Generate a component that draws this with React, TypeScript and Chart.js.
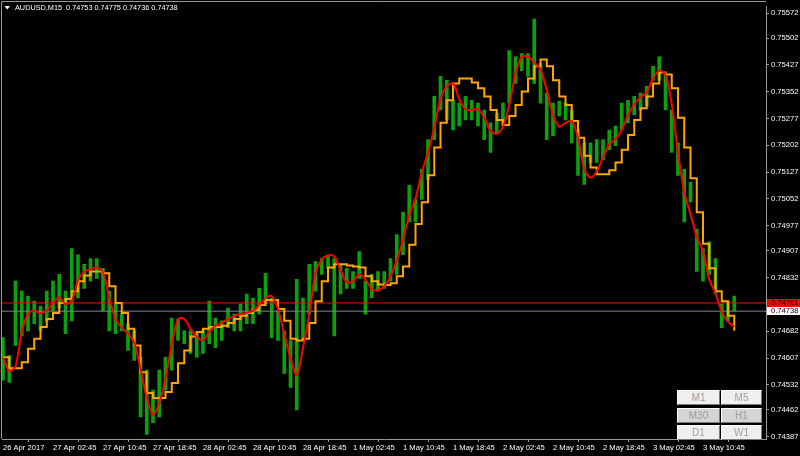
import React, { useEffect, useRef } from 'react';
import { Chart, registerables } from 'chart.js';
Chart.register(...registerables);

const timeLabels = ['26 Apr 2017', '27 Apr 02:45', '27 Apr 10:45', '27 Apr 18:45', '28 Apr 02:45', '28 Apr 10:45', '28 Apr 18:45', '1 May 02:45', '1 May 10:45', '1 May 18:45', '2 May 02:45', '2 May 10:45', '2 May 18:45', '3 May 02:45', '3 May 10:45'];
const tickHours = [0, 8, 16, 24, 32, 40, 48, 56, 64, 72, 80, 88, 96, 104, 112];
const priceTicks = [0.75572, 0.75502, 0.75427, 0.75352, 0.75277, 0.75202, 0.75127, 0.75052, 0.74977, 0.74907, 0.74832, 0.74682, 0.74607, 0.74532, 0.74462, 0.74387];

const red = [0.74609, 0.74570, 0.74584, 0.74680, 0.74730, 0.74739, 0.74733, 0.74739, 0.74761, 0.74777,
  0.74758, 0.74766, 0.74824, 0.74849, 0.74855, 0.74860, 0.74847, 0.74775, 0.74716, 0.74692,
  0.74675, 0.74650, 0.74578, 0.74495, 0.74448, 0.74481, 0.74550, 0.74644, 0.74716, 0.74716,
  0.74689, 0.74667, 0.74656, 0.74680, 0.74697, 0.74705, 0.74716, 0.74725, 0.74730, 0.74733,
  0.74739, 0.74755, 0.74775, 0.74780, 0.74744, 0.74675, 0.74606, 0.74559, 0.74636, 0.74730,
  0.74844, 0.74883, 0.74894, 0.74891, 0.74852, 0.74819, 0.74822, 0.74841, 0.74827, 0.74800,
  0.74797, 0.74808, 0.74836, 0.74880, 0.74938, 0.75007, 0.75054, 0.75126, 0.75182, 0.75251,
  0.75331, 0.75367, 0.75375, 0.75331, 0.75303, 0.75301, 0.75303, 0.75279, 0.75243, 0.75234,
  0.75254, 0.75315, 0.75403, 0.75450, 0.75450, 0.75434, 0.75414, 0.75356, 0.75287, 0.75254,
  0.75265, 0.75270, 0.75223, 0.75135, 0.75112, 0.75129, 0.75168, 0.75204, 0.75220, 0.75245,
  0.75287, 0.75317, 0.75337, 0.75351, 0.75389, 0.75411, 0.75400, 0.75317, 0.75182, 0.75071,
  0.75010, 0.74946, 0.74905, 0.74827, 0.74788, 0.74736, 0.74708, 0.74694];

const orange = [0.74609, 0.74578, 0.74578, 0.74595, 0.74633, 0.74661, 0.74694, 0.74716, 0.74733, 0.74761,
  0.74772, 0.74794, 0.74822, 0.74838, 0.74849, 0.74849, 0.74844, 0.74808, 0.74761, 0.74733,
  0.74689, 0.74642, 0.74567, 0.74509, 0.74495, 0.74495, 0.74512, 0.74537, 0.74592, 0.74628,
  0.74667, 0.74680, 0.74689, 0.74694, 0.74694, 0.74697, 0.74705, 0.74716, 0.74725, 0.74733,
  0.74741, 0.74755, 0.74769, 0.74769, 0.74744, 0.74711, 0.74661, 0.74656, 0.74661, 0.74705,
  0.74766, 0.74822, 0.74860, 0.74869, 0.74869, 0.74866, 0.74863, 0.74860, 0.74836, 0.74822,
  0.74813, 0.74811, 0.74816, 0.74836, 0.74863, 0.74924, 0.74982, 0.75043, 0.75118, 0.75196,
  0.75265, 0.75328, 0.75375, 0.75389, 0.75389, 0.75378, 0.75362, 0.75339, 0.75301, 0.75273,
  0.75259, 0.75284, 0.75315, 0.75353, 0.75389, 0.75423, 0.75442, 0.75423, 0.75384, 0.75339,
  0.75315, 0.75270, 0.75223, 0.75173, 0.75140, 0.75121, 0.75121, 0.75132, 0.75154, 0.75190,
  0.75231, 0.75273, 0.75306, 0.75339, 0.75375, 0.75406, 0.75400, 0.75362, 0.75279, 0.75196,
  0.75110, 0.75015, 0.74927, 0.74858, 0.74794, 0.74766, 0.74725, 0.74683];

const high = [0.74664, 0.74614, 0.74822, 0.74794, 0.74780, 0.74766, 0.74752, 0.74794, 0.74822, 0.74841,
  0.74794, 0.74913, 0.74896, 0.74869, 0.74885, 0.74885, 0.74858, 0.74794, 0.74758, 0.74730,
  0.74703, 0.74683, 0.74609, 0.74573, 0.74517, 0.74573, 0.74609, 0.74719, 0.74716, 0.74683,
  0.74683, 0.74675, 0.74683, 0.74766, 0.74719, 0.74711, 0.74747, 0.74730, 0.74758, 0.74786,
  0.74775, 0.74802, 0.74844, 0.74775, 0.74739, 0.74683, 0.74656, 0.74827, 0.74775, 0.74869,
  0.74877, 0.74885, 0.74896, 0.74885, 0.74869, 0.74858, 0.74849, 0.74905, 0.74822, 0.74841,
  0.74849, 0.74849, 0.74885, 0.74952, 0.75015, 0.75090, 0.75051, 0.75135, 0.75218, 0.75339,
  0.75395, 0.75384, 0.75328, 0.75320, 0.75339, 0.75328, 0.75320, 0.75301, 0.75265, 0.75292,
  0.75320, 0.75467, 0.75450, 0.75459, 0.75459, 0.75555, 0.75431, 0.75348, 0.75320, 0.75326,
  0.75320, 0.75301, 0.75245, 0.75209, 0.75209, 0.75218, 0.75218, 0.75245, 0.75256, 0.75320,
  0.75328, 0.75339, 0.75348, 0.75367, 0.75423, 0.75450, 0.75403, 0.75301, 0.75209, 0.75135,
  0.75099, 0.74968, 0.74913, 0.74932, 0.74885, 0.74758, 0.74766, 0.74780];

const low = [0.74545, 0.74539, 0.74642, 0.74669, 0.74683, 0.74703, 0.74683, 0.74711, 0.74739, 0.74747,
  0.74675, 0.74711, 0.74775, 0.74802, 0.74822, 0.74830, 0.74739, 0.74683, 0.74675, 0.74683,
  0.74628, 0.74600, 0.74442, 0.74393, 0.74426, 0.74442, 0.74517, 0.74573, 0.74656, 0.74647,
  0.74620, 0.74609, 0.74620, 0.74647, 0.74636, 0.74656, 0.74692, 0.74683, 0.74683, 0.74703,
  0.74703, 0.74730, 0.74758, 0.74664, 0.74656, 0.74564, 0.74525, 0.74462, 0.74656, 0.74730,
  0.74794, 0.74841, 0.74858, 0.74669, 0.74786, 0.74802, 0.74802, 0.74830, 0.74730, 0.74775,
  0.74794, 0.74802, 0.74822, 0.74841, 0.74896, 0.74988, 0.74988, 0.75051, 0.75107, 0.75218,
  0.75301, 0.75273, 0.75245, 0.75256, 0.75273, 0.75273, 0.75256, 0.75218, 0.75182, 0.75237,
  0.75256, 0.75320, 0.75375, 0.75411, 0.75395, 0.75375, 0.75320, 0.75218, 0.75229, 0.75284,
  0.75273, 0.75209, 0.75118, 0.75093, 0.75154, 0.75154, 0.75162, 0.75190, 0.75201, 0.75245,
  0.75265, 0.75287, 0.75301, 0.75312, 0.75384, 0.75384, 0.75301, 0.75182, 0.75118, 0.74988,
  0.75043, 0.74849, 0.74822, 0.74841, 0.74786, 0.74692, 0.74711, 0.74739];

const lineLevel = 0.74761;
const bidLevel = 0.74738;
const titleText = 'AUDUSD,M15  0.74753 0.74775 0.74736 0.74738';
const buttonRows = [['M1', 'M5'], ['M30', 'H1'], ['D1', 'W1']];

const FONT = "'Liberation Sans', Arial, sans-serif";

export default function App() {
  const ref = useRef<HTMLCanvasElement>(null);
  useEffect(() => {
    const hours = red.map((_, i) => i);
    const xMin = -0.16;
    const xMax = 122.08;

    const overlay = {
      id: 'overlay',
      afterDraw(chart: any) {
        const ctx = chart.ctx;
        const area = chart.chartArea;
        ctx.save();
        ctx.strokeStyle = '#9a9a9a';
        ctx.lineWidth = 1;
        ctx.beginPath();
        ctx.moveTo(1.5, area.bottom);
        ctx.lineTo(1.5, 1.5);
        ctx.lineTo(area.right, 1.5);
        ctx.stroke();
        // title
        ctx.fillStyle = '#ffffff';
        ctx.beginPath();
        ctx.moveTo(4.5, 6);
        ctx.lineTo(10, 6);
        ctx.lineTo(7.25, 9.5);
        ctx.closePath();
        ctx.fill();
        ctx.font = `7.3px ${FONT}`;
        ctx.textBaseline = 'middle';
        ctx.textAlign = 'left';
        ctx.fillStyle = '#ffffff';
        ctx.fillText(titleText, 15, 8);
        // price tags
        const ys = chart.scales.y;
        const tags = [
          { v: lineLevel, bg: '#ff0000', fg: '#000000' },
          { v: bidLevel, bg: '#ffffff', fg: '#000000' },
        ];
        tags.forEach((t) => {
          const y = ys.getPixelForValue(t.v);
          ctx.fillStyle = t.bg;
          ctx.fillRect(767, Math.round(y) - 4, 33, 8);
          ctx.fillStyle = t.fg;
          ctx.font = `7.6px ${FONT}`;
          ctx.fillText(t.v.toFixed(5), 771, Math.round(y));
        });
        ctx.restore();
      },
    };

    const chart = new Chart(ref.current as HTMLCanvasElement, {
      type: 'bar',
      data: {
        datasets: [
          {
            type: 'line',
            data: hours.map((h) => ({ x: h, y: red[h] })),
            borderColor: '#ff0000',
            borderWidth: 2,
            pointRadius: 0,
            tension: 0.3,
            order: 1,
          } as any,
          {
            type: 'line',
            data: hours.map((h) => ({ x: h, y: orange[h] })),
            borderColor: '#ffa500',
            borderWidth: 2,
            pointRadius: 0,
            stepped: true,
            order: 2,
          } as any,
          {
            type: 'line',
            data: [{ x: xMin, y: lineLevel }, { x: xMax, y: lineLevel }],
            borderColor: '#ff0000',
            borderWidth: 1,
            pointRadius: 0,
            order: 3,
          } as any,
          {
            type: 'line',
            data: [{ x: xMin, y: bidLevel }, { x: xMax, y: bidLevel }],
            borderColor: '#778899',
            borderWidth: 1,
            pointRadius: 0,
            order: 3,
          } as any,
          {
            type: 'bar',
            data: hours.map((h) => ({ x: h, y: [low[h], high[h]] })),
            backgroundColor: '#0ca00c',
            barThickness: 3,
            order: 5,
          } as any,
        ],
      },
      options: {
        animation: false,
        responsive: false,
        devicePixelRatio: 1,
        layout: { padding: { left: 2, top: 2, right: 0, bottom: 0 } },
        plugins: { legend: { display: false }, tooltip: { enabled: false } },
        scales: {
          x: {
            type: 'linear',
            min: xMin,
            max: xMax,
            offset: false,
            afterBuildTicks: (s: any) => { s.ticks = tickHours.map((v) => ({ value: v })); },
            afterFit: (s: any) => { s.height = 17; },
            ticks: {
              autoSkip: false,
              maxRotation: 0,
              minRotation: 0,
              align: 'start',
              color: '#ffffff',
              padding: 1,
              font: { family: FONT, size: 7.6 },
              callback: (_v: any, i: number) => timeLabels[i],
            },
            grid: { display: true, drawOnChartArea: false, drawTicks: true, tickLength: 3, color: '#9a9a9a' },
            border: { display: true, color: '#9a9a9a' },
          } as any,
          y: {
            type: 'linear',
            position: 'right',
            min: 0.743804,
            max: 0.755903,
            afterBuildTicks: (s: any) => { s.ticks = priceTicks.map((v) => ({ value: v })); },
            afterFit: (s: any) => { s.width = 34; },
            ticks: {
              autoSkip: false,
              color: '#ffffff',
              padding: 2,
              font: { family: FONT, size: 7.6 },
              callback: (v: any) => Number(v).toFixed(5),
            },
            grid: { display: true, drawOnChartArea: false, drawTicks: true, tickLength: 3, color: '#9a9a9a' },
            border: { display: true, color: '#9a9a9a' },
          } as any,
        },
      },
      plugins: [overlay],
    });
    return () => chart.destroy();
  }, []);

  const btnStyle = (label: string, col: number, row: number): React.CSSProperties => {
    const pressed = label === 'M30' || label === 'H1';
    return {
      position: 'absolute',
      left: col === 0 ? 677 : 721,
      top: [390, 408, 425][row],
      width: col === 0 ? 43 : 41,
      height: 15,
      boxSizing: 'border-box',
      background: pressed ? '#d5d5d5' : '#efefef',
      borderTop: '1px solid #ffffff',
      borderLeft: '1px solid #ffffff',
      borderBottom: '1px solid #7a7a7a',
      borderRight: '1px solid #7a7a7a',
      color: pressed ? '#9a9a9a' : '#a0a0a0',
      font: `10px ${FONT}`,
      lineHeight: '13px',
      textAlign: 'center',
    };
  };

  return (
    <div style={{ position: 'fixed', left: 0, top: 0, width: 800, height: 456, background: '#000000', overflow: 'hidden' }}>
      <canvas ref={ref} width={800} height={456} style={{ display: 'block', width: 800, height: 456 }} />
      {buttonRows.map((row, r) => row.map((label, c) => (
        <div key={label} style={btnStyle(label, c, r)}>{label}</div>
      )))}
    </div>
  );
}
